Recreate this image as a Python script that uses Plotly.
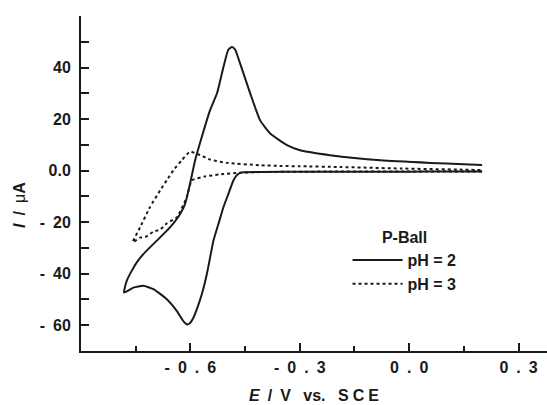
import plotly.graph_objects as go

# pH = 2 : cathodic sweep (0.2 V -> -0.78 V)
E2_cath = [0.20, 0.10, 0.0, -0.10, -0.20, -0.30, -0.40, -0.4545, -0.4682, -0.482, -0.4957,
           -0.5094, -0.5231, -0.5368, -0.5459, -0.555, -0.5687, -0.5808, -0.5917, -0.6008,
           -0.6082, -0.620, -0.637, -0.6647, -0.7015, -0.729, -0.7564, -0.782]
I2_cath = [-0.35, -0.35, -0.4, -0.4, -0.45, -0.45, -0.5, -0.6, -1.2, -3.8, -9.0,
           -14.2, -20.7, -27.2, -33.7, -40.2, -48.0, -53.2, -57.1, -59.1,
           -59.7, -58.3, -54.5, -49.9, -46.0, -44.7, -45.4, -47.3]
# pH = 2 : anodic sweep (-0.78 V -> 0.2 V)
E2_anod = [-0.782, -0.7746, -0.761, -0.747, -0.729, -0.711, -0.683, -0.656, -0.628, -0.6145,
           -0.601, -0.587, -0.573, -0.546, -0.527, -0.509, -0.496, -0.486, -0.477, -0.464,
           -0.436, -0.409, -0.381, -0.335, -0.299, -0.217, -0.079, 0.058, 0.149, 0.200]
I2_anod = [-47.3, -42.8, -38.9, -35.6, -32.4, -29.8, -25.9, -22.0, -16.8, -12.9,
           -5.1, 4.0, 11.0, 23.5, 30.0, 40.4, 46.9, 48.0, 46.9, 41.7,
           30.0, 19.6, 14.4, 9.9, 7.9, 6.0, 4.0, 3.0, 2.5, 2.2]

# pH = 3 : cathodic sweep
E3_cath = [0.20, 0.0, -0.20, -0.40, -0.464, -0.52, -0.56, -0.596, -0.610, -0.637, -0.665,
           -0.683, -0.701, -0.720, -0.738, -0.758]
I3_cath = [-0.3, -0.3, -0.35, -0.55, -0.8, -1.5, -2.3, -3.8, -10.3, -18.1, -20.5,
           -22.9, -23.6, -25.5, -26.0, -27.8]
# pH = 3 : anodic sweep
E3_anod = [-0.758, -0.738, -0.711, -0.683, -0.665, -0.647, -0.624, -0.601, -0.573, -0.546,
           -0.500, -0.409, -0.350, -0.300, -0.190, -0.020, 0.140, 0.200]
I3_anod = [-27.8, -22.0, -14.2, -7.7, -3.8, 0.1, 4.0, 7.3, 6.0, 4.3,
           3.0, 2.1, 1.8, 1.7, 1.4, 0.8, 0.4, 0.2]

x_tickvals = [-0.6, -0.3, 0.0, 0.3]
x_ticktext = ["-\u20020\u2002.\u20026", "-\u20020\u2002.\u20023", "0\u2002.\u20020", "0\u2002.\u20023"]
x_minor = [-0.75, -0.45, -0.15, 0.15]
y_tickvals = [-60, -40, -20, 0, 20, 40]
y_ticktext = ["-\u200260", "-\u200240", "-\u200220", "0.0", "20", "40"]
y_minor = [-50, -30, -10, 10, 30, 50, 60]

FONT = "Liberation Sans"
INK = "#1a1a1a"

fig = go.Figure()
fig.add_trace(go.Scatter(
    x=E2_cath + E2_anod[1:], y=I2_cath + I2_anod[1:], mode="lines", name="pH = 2",
    line=dict(color=INK, width=2, shape="spline", smoothing=0.5)))
fig.add_trace(go.Scatter(
    x=E3_cath + E3_anod[1:], y=I3_cath + I3_anod[1:], mode="lines", name="pH = 3",
    line=dict(color=INK, width=2, dash="dot", shape="spline", smoothing=0.5)))

fig.update_layout(
    width=547, height=405,
    margin=dict(l=81, r=0, t=16, b=54),
    paper_bgcolor="white", plot_bgcolor="white",
    font=dict(family=FONT, size=16, color=INK, weight="bold"),
    showlegend=True,
    legend=dict(
        x=0.572, y=0.384, xanchor="left", yanchor="top",
        bgcolor="rgba(0,0,0,0)",
        font=dict(family=FONT, size=16, color=INK, weight="bold"),
        title=dict(text="P-Ball", side="top center",
                   font=dict(family=FONT, size=16, color=INK, weight="bold")),
        itemwidth=50, tracegroupgap=0,
    ),
    annotations=[dict(
        text="<i>I</i>\u2002/\u2002<span style='font-weight:normal'>μ</span>A",
        xref="paper", yref="paper", x=0, y=0.436, xanchor="center", yanchor="middle",
        xshift=-61, textangle=-90, showarrow=False,
        font=dict(family=FONT, size=16, color=INK, weight="bold"))],
)

fig.update_xaxes(
    range=[-0.9, 0.378], showgrid=False, zeroline=False,
    showline=True, linecolor=INK, linewidth=2,
    ticks="inside", ticklen=8, tickwidth=2, tickcolor=INK,
    tickvals=x_tickvals, ticktext=x_ticktext, ticklabelstandoff=1,
    tickfont=dict(family=FONT, size=16, color=INK, weight="bold"),
    minor=dict(tickvals=x_minor, ticks="inside", ticklen=5, tickwidth=2, tickcolor=INK),
    title=dict(text="<i>E</i>\u2002/\u2002V\u2002 vs.\u2002 S\u2005C\u2005E",
               font=dict(family=FONT, size=16, color=INK, weight="bold"), standoff=15),
)
fig.update_yaxes(
    range=[-70, 60], showgrid=False, zeroline=False,
    showline=True, linecolor=INK, linewidth=2,
    ticks="inside", ticklen=8, tickwidth=2, tickcolor=INK,
    tickvals=y_tickvals, ticktext=y_ticktext, ticklabelstandoff=5,
    tickfont=dict(family=FONT, size=16, color=INK, weight="bold"),
    minor=dict(tickvals=y_minor, ticks="inside", ticklen=8, tickwidth=2, tickcolor=INK),
)

fig.write_html("out.html")
